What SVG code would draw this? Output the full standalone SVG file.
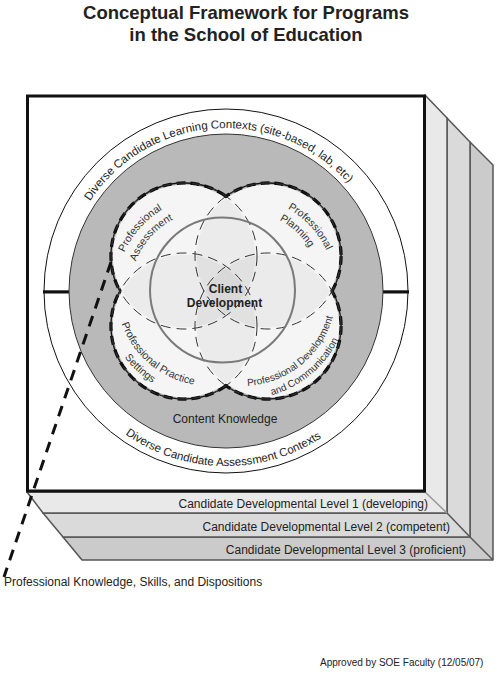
<svg xmlns="http://www.w3.org/2000/svg" width="500" height="675" viewBox="0 0 500 675">
<style>
text{font-family:"Liberation Sans",Arial,sans-serif;fill:#222}
.title{font-size:18.5px;font-weight:bold;text-anchor:middle}
.ring{font-size:11.5px}
.venn{font-size:10.5px;fill:#333}
.vsm{font-size:10px;fill:#333}
.lvl{font-size:12px;text-anchor:end}
.mid{text-anchor:middle}
.layer{stroke:#555;stroke-width:1.5;stroke-linejoin:round}
.vout{fill:none;stroke:#111;stroke-width:1.3}
.vdash{fill:none;stroke:#111;stroke-width:3.4;stroke-dasharray:9 5}
.vin{fill:none;stroke:#333;stroke-width:1;stroke-dasharray:10 6}
.vtint{fill:#000;fill-opacity:0.04}
</style>
<defs>
<path id="pTop" d="M67.8,330.4 A163,163 0 1,1 388.1,308"/>
<path id="pBot" d="M54.2,257.6 A175,175 0 1,0 398.8,263.6"/>
<path id="pTL1" d="M116.7,295.7 A93.5,93.5 0 0,1 204.3,196.7"/>
<path id="pTL2" d="M130.6,294.6 A79.5,79.5 0 0,1 205.4,210.6"/>
<path id="pTR1" d="M245.3,196.6 A93.5,93.5 0 0,1 335.4,293.3"/>
<path id="pTR2" d="M239.2,210.6 A79.5,79.5 0 0,1 321.5,287.2"/>
<path id="pBL1" d="M116.4,300.2 A94,94 0 0,0 218.2,385.6"/>
<path id="pBL2" d="M102.6,296.7 A107.5,107.5 0 0,0 214.7,399.4"/>
<path id="pBR1" d="M232.2,385.5 A94,94 0 0,0 335.5,301.8"/>
<path id="pBR2" d="M235.6,399.3 A107.5,107.5 0 0,0 349.3,298.4"/>
</defs>

<g id="title">
<text class="title" x="246" y="18.5">Conceptual Framework for Programs</text>
<text class="title" x="246" y="41">in the School of Education</text>
</g>

<g id="levels">
<g id="level3">
<polygon class="layer" fill="#cbcbcb" points="470,142 493,165 493,560 82,560 63,537 470,537"/>
<line class="layer" x1="470" y1="537" x2="493" y2="560"/>
<text class="lvl" x="466" y="554">Candidate Developmental Level 3 (proficient)</text>
</g>
<g id="level2">
<polygon class="layer" fill="#dadada" points="447,118 470,142 470,537 63,537 43,513 447,513"/>
<line class="layer" x1="447" y1="513" x2="470" y2="537"/>
<text class="lvl" x="450" y="531">Candidate Developmental Level 2 (competent)</text>
</g>
<g id="level1">
<polygon class="layer" fill="#e9e9e9" stroke="#888" stroke-width="1.5" points="425,95 447,118 447,513 43,513 27,492 425,492"/>
<line stroke="#999" stroke-width="1.5" x1="425" y1="492" x2="447" y2="513"/>
<text class="lvl" x="428" y="508">Candidate Developmental Level 1 (developing)</text>
</g>
</g>

<g id="front">
<rect x="27.5" y="96" width="397" height="395" fill="#fff" stroke="#111" stroke-width="3"/>
</g>

<g id="contexts">
<circle cx="226" cy="291" r="182" fill="#fff" stroke="#111" stroke-width="1"/>
<rect x="43" y="290.3" width="26" height="3.2" fill="#111"/>
<rect x="383" y="290.3" width="26" height="3.2" fill="#111"/>
<text class="ring"><textPath href="#pTop" startOffset="50%" text-anchor="middle">Diverse Candidate Learning Contexts (site-based, lab, etc)</textPath></text>
<text class="ring"><textPath href="#pBot" startOffset="50%" text-anchor="middle">Diverse Candidate Assessment Contexts</textPath></text>
</g>

<g id="content-knowledge">
<circle cx="226" cy="291" r="157" fill="#b9b9b9" stroke="#333" stroke-width="1"/>
<text class="mid" x="225" y="423" font-size="12">Content Knowledge</text>
</g>

<g id="venn-outline">
<circle class="vout" cx="184" cy="256" r="73"/>
<circle class="vout" cx="268" cy="256" r="73"/>
<circle class="vout" cx="184" cy="326" r="73"/>
<circle class="vout" cx="268" cy="326" r="73"/>
<circle class="vdash" cx="184" cy="256" r="73"/>
<circle class="vdash" cx="268" cy="256" r="73"/>
<circle class="vdash" cx="184" cy="326" r="73"/>
<circle class="vdash" cx="268" cy="326" r="73"/>
<circle fill="#fff" cx="184" cy="256" r="71.3"/>
<circle fill="#fff" cx="268" cy="256" r="71.3"/>
<circle fill="#fff" cx="184" cy="326" r="71.3"/>
<circle fill="#fff" cx="268" cy="326" r="71.3"/>
</g>

<g id="professional-assessment">
<circle class="vtint" cx="184" cy="256" r="71.3"/>
</g>
<g id="professional-planning">
<circle class="vtint" cx="268" cy="256" r="71.3"/>
</g>
<g id="professional-practice-settings">
<circle class="vtint" fill-opacity="0.012" cx="184" cy="326" r="71.3"/>
</g>
<g id="professional-development-communication">
<circle class="vtint" cx="268" cy="326" r="71.3"/>
</g>

<g id="venn-inner">
<circle class="vin" cx="184" cy="256" r="73"/>
<circle class="vin" cx="268" cy="256" r="73"/>
<circle class="vin" cx="184" cy="326" r="73"/>
<circle class="vin" cx="268" cy="326" r="73"/>
</g>

<g id="client-development">
<circle cx="222.5" cy="290" r="72.5" fill="none" stroke="#7a7a7a" stroke-width="2"/>
<text class="mid" x="225.5" y="293" font-size="12" font-weight="bold">Client</text>
<text class="mid" x="224.5" y="307" font-size="12" font-weight="bold">Development</text>
</g>

<g id="venn-labels">
<text class="venn"><textPath href="#pTL1" startOffset="50%" text-anchor="middle">Professional</textPath></text>
<text class="venn"><textPath href="#pTL2" startOffset="50%" text-anchor="middle">Assessment</textPath></text>
<text class="venn"><textPath href="#pTR1" startOffset="50%" text-anchor="middle">Professional</textPath></text>
<text class="venn"><textPath href="#pTR2" startOffset="50%" text-anchor="middle">Planning</textPath></text>
<text class="venn"><textPath href="#pBL1" startOffset="50%" text-anchor="middle">Professional Practice</textPath></text>
<text class="venn"><textPath href="#pBL2" startOffset="50%" text-anchor="middle">Settings</textPath></text>
<text class="vsm"><textPath href="#pBR1" startOffset="50%" text-anchor="middle">Professional Development</textPath></text>
<text class="vsm"><textPath href="#pBR2" startOffset="48%" text-anchor="middle">and Communication</textPath></text>
</g>

<g id="connectors">
<line x1="111" y1="262" x2="4" y2="577" stroke="#111" stroke-width="3" stroke-dasharray="11 8"/>
</g>

<g id="pksd">
<text x="4" y="586" font-size="12">Professional Knowledge, Skills, and Dispositions</text>
</g>

<g id="approval">
<text x="320" y="666" font-size="10">Approved by SOE Faculty (12/05/07)</text>
</g>
</svg>
